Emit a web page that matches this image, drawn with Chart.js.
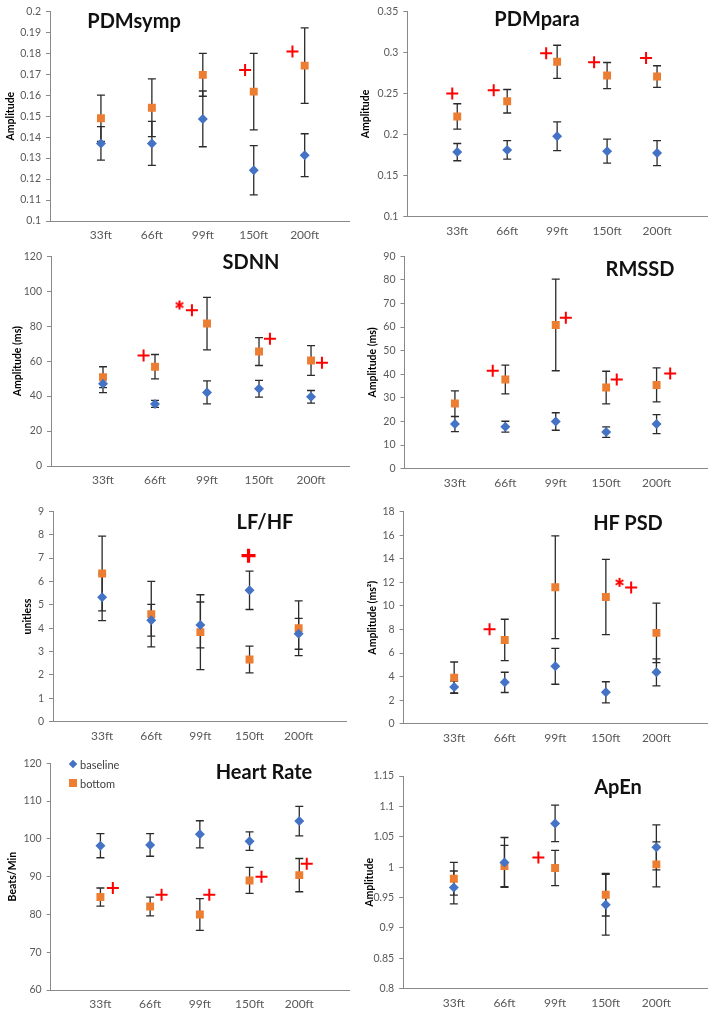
<!DOCTYPE html>
<html>
<head>
<meta charset="utf-8">
<script src="https://cdn.jsdelivr.net/npm/chart.js@4.4.1/dist/chart.umd.min.js"></script>
<style>
    body { margin: 0; background: #fff; }
    #page { position: relative; width: 715px; height: 1013px; overflow: hidden; font-family: Lato, "Open Sans", sans-serif; }
    #page canvas { position: absolute; }
    .ptitle { position: absolute; transform: translate(-50%, -50%); font-weight: bold; font-size: 20px; color: #111; white-space: nowrap; }
    .leg { position: absolute; font-size: 11px; color: #404040; transform: translateY(-50%); white-space: nowrap; }
    .diamond { position: absolute; width: 6px; height: 6px; background: #4472C4; transform: translate(-50%, -50%) rotate(45deg); }
    .square { position: absolute; width: 8px; height: 8px; background: #ED7D31; transform: translate(-50%, -50%); }
</style>
</head>
<body>
<div id="page"></div>
<script>
const categories = ['33ft', '66ft', '99ft', '150ft', '200ft'];

// PDMsymp
const symBase = [0.137, 0.137, 0.1487, 0.1242, 0.1314];
const symBaseErr = [0.008, 0.0105, 0.0133, 0.0117, 0.0102];
const symBottom = [0.149, 0.154, 0.1697, 0.1617, 0.1741];
const symBottomErr = [0.011, 0.0138, 0.0102, 0.0182, 0.018];
const symPlusX = [3.83, 4.76];
const symPlusY = [0.172, 0.1808];

// PDMpara
const paraBase = [0.1786, 0.1813, 0.198, 0.1798, 0.1774];
const paraBaseErr = [0.0105, 0.0113, 0.0175, 0.0147, 0.0153];
const paraBottom = [0.222, 0.2405, 0.2885, 0.2718, 0.2706];
const paraBottomErr = [0.0155, 0.0143, 0.0202, 0.0159, 0.0131];
const paraPlusX = [0.90, 1.73, 2.78, 3.74, 4.78];
const paraPlusY = [0.25, 0.254, 0.2988, 0.288, 0.2933];

// SDNN
const sdnnBase = [47.0, 35.5, 42.1, 44.2, 39.6];
const sdnnBaseErr = [5.0, 2.0, 6.6, 4.8, 3.6];
const sdnnBottom = [50.8, 56.8, 81.5, 65.5, 60.4];
const sdnnBottomErr = [6.0, 7.0, 15.0, 8.0, 8.5];
const sdnnPlusX = [1.78, 2.71, 4.21, 5.21];
const sdnnPlusY = [63.2, 89.1, 72.8, 59.1];
const sdnnStarX = [2.47];
const sdnnStarY = [92.1];

// RMSSD
const rmssdBase = [18.9, 17.8, 20.0, 15.5, 18.9];
const rmssdBaseErr = [3.2, 2.3, 3.7, 2.2, 4.0];
const rmssdBottom = [27.6, 37.8, 60.9, 34.4, 35.5];
const rmssdBottomErr = [5.4, 6.1, 19.4, 6.9, 7.2];
const rmssdPlusX = [1.75, 3.20, 4.21, 5.27];
const rmssdPlusY = [41.5, 64.0, 37.8, 40.3];

// LF/HF
const lfhfBase = [5.32, 4.34, 4.14, 5.62, 3.76];
const lfhfBaseErr = [1.0, 0.68, 0.98, 0.82, 0.66];
const lfhfBottom = [6.34, 4.6, 3.83, 2.66, 4.0];
const lfhfBottomErr = [1.6, 1.4, 1.6, 0.57, 1.17];
const lfhfPlusX = [3.98];
const lfhfPlusY = [7.1];

// HF PSD
const hfBase = [3.12, 3.51, 4.87, 2.66, 4.36];
const hfBaseErr = [0.5, 0.86, 1.52, 0.9, 1.15];
const hfBottom = [3.91, 7.11, 11.59, 10.76, 7.71];
const hfBottomErr = [1.33, 1.76, 4.36, 3.2, 2.52];
const hfPlusX = [1.70, 4.50];
const hfPlusY = [8.02, 11.56];
const hfStarX = [4.27];
const hfStarY = [12.0];

// Heart Rate
const hrBase = [98.2, 98.4, 101.2, 99.4, 104.7];
const hrBaseErr = [3.2, 3.0, 3.6, 2.45, 3.9];
const hrBottom = [84.6, 82.1, 80.0, 89.0, 90.4];
const hrBottomErr = [2.4, 2.5, 4.2, 3.45, 4.4];
const hrPlusX = [1.25, 2.23, 3.19, 4.24, 5.15];
const hrPlusY = [87.0, 85.2, 85.2, 90.0, 93.4];

// ApEn
const apenBase = [0.9667, 1.0078, 1.072, 0.9381, 1.0326];
const apenBaseErr = [0.027, 0.041, 0.030, 0.05, 0.037];
const apenBottom = [0.981, 1.0018, 0.9985, 0.9546, 1.0046];
const apenBottomErr = [0.027, 0.034, 0.029, 0.035, 0.037];
const apenPlusX = [2.67];
const apenPlusY = [1.016];

const BLUE = '#4472C4', ORANGE = '#ED7D31', RED = '#FF0000', AXIS = '#898989', TICK = '#595959';

const panels = [
    { title: 'PDMsymp', yLabel: 'Amplitude', base: symBase, baseErr: symBaseErr, bottom: symBottom, bottomErr: symBottomErr,
      plusX: symPlusX, plusY: symPlusY, yMin: 0.1, yMax: 0.2, yStep: 0.01,
      box: { x: 0, y: 0, w: 357, h: 250 }, area: { l: 50, t: 8, r: 350, b: 221 }, xMax: 5.87, titleAt: [134, 20], yTitleX: 10 },
    { title: 'PDMpara', yLabel: 'Amplitude', base: paraBase, baseErr: paraBaseErr, bottom: paraBottom, bottomErr: paraBottomErr,
      plusX: paraPlusX, plusY: paraPlusY, yMin: 0.1, yMax: 0.35, yStep: 0.05,
      box: { x: 357, y: 0, w: 358, h: 250 }, area: { l: 407.3, t: 6.7, r: 711, b: 216.7 }, xMax: 6, titleAt: [537, 18], yTitleX: 8 },
    { title: 'SDNN', yLabel: 'Amplitude (ms)', base: sdnnBase, baseErr: sdnnBaseErr, bottom: sdnnBottom, bottomErr: sdnnBottomErr,
      plusX: sdnnPlusX, plusY: sdnnPlusY, starX: sdnnStarX, starY: sdnnStarY, yMin: 0, yMax: 120, yStep: 20,
      box: { x: 0, y: 245, w: 357, h: 262 }, area: { l: 51, t: 254, r: 353.3, b: 466 }, xMax: 5.73, titleAt: [251, 261], yTitleX: 17 },
    { title: 'RMSSD', yLabel: 'Amplitude (ms)', base: rmssdBase, baseErr: rmssdBaseErr, bottom: rmssdBottom, bottomErr: rmssdBottomErr,
      plusX: rmssdPlusX, plusY: rmssdPlusY, yMin: 0, yMax: 90, yStep: 10,
      box: { x: 357, y: 245, w: 358, h: 262 }, area: { l: 404.5, t: 256, r: 709.5, b: 468.7 }, xMax: 6, titleAt: [640, 268], yTitleX: 15 },
    { title: 'LF/HF', yLabel: 'unitless', base: lfhfBase, baseErr: lfhfBaseErr, bottom: lfhfBottom, bottomErr: lfhfBottomErr,
      plusX: lfhfPlusX, plusY: lfhfPlusY, boldPlus: true, yMin: 0, yMax: 9, yStep: 1,
      box: { x: 0, y: 500, w: 357, h: 260 }, area: { l: 53, t: 509.3, r: 350, b: 721.7 }, xMax: 5.98, titleAt: [265, 521], yTitleX: 27 },
    { title: 'HF PSD', yLabel: 'Amplitude (ms²)', base: hfBase, baseErr: hfBaseErr, bottom: hfBottom, bottomErr: hfBottomErr,
      plusX: hfPlusX, plusY: hfPlusY, starX: hfStarX, starY: hfStarY, yMin: 0, yMax: 18, yStep: 2,
      box: { x: 357, y: 500, w: 358, h: 260 }, area: { l: 403.6, t: 511.7, r: 710, b: 723.7 }, xMax: 6, titleAt: [628, 522], yTitleX: 15 },
    { title: 'Heart Rate', yLabel: 'Beats/Min', base: hrBase, baseErr: hrBaseErr, bottom: hrBottom, bottomErr: hrBottomErr,
      plusX: hrPlusX, plusY: hrPlusY, yMin: 60, yMax: 120, yStep: 10,
      box: { x: 0, y: 752, w: 357, h: 261 }, area: { l: 50.7, t: 760, r: 356, b: 990 }, xMax: 6, titleAt: [264, 771], yTitleX: 12 },
    { title: 'ApEn', yLabel: 'Amplitude', base: apenBase, baseErr: apenBaseErr, bottom: apenBottom, bottomErr: apenBottomErr,
      plusX: apenPlusX, plusY: apenPlusY, yMin: 0.8, yMax: 1.15, yStep: 0.05,
      box: { x: 357, y: 752, w: 358, h: 261 }, area: { l: 403.2, t: 776, r: 710, b: 988.7 }, xMax: 6, titleAt: [618, 786], yTitleX: 12 }
];

Chart.defaults.font.family = 'Lato, "Open Sans", sans-serif';

// six-armed red asterisk used as a point style
function makeAsterisk(size) {
    const c = document.createElement('canvas');
    c.width = c.height = size;
    const g = c.getContext('2d');
    const m = size / 2, r = size / 2 - 1;
    g.strokeStyle = RED;
    g.lineWidth = 2;
    g.beginPath();
    for (let k = 0; k < 3; k++) {
        const a = Math.PI / 2 + k * Math.PI / 3;
        g.moveTo(m + r * Math.cos(a), m + r * Math.sin(a));
        g.lineTo(m - r * Math.cos(a), m - r * Math.sin(a));
    }
    g.stroke();
    return c;
}
const asterisk = makeAsterisk(11);

// vertical error bars with caps, drawn under the markers
const errorBars = {
    id: 'errorBars',
    beforeDatasetsDraw(chart) {
        const ctx = chart.ctx, ys = chart.scales.y;
        ctx.save();
        ctx.strokeStyle = '#2b2b2b';
        ctx.lineWidth = 1.3;
        chart.data.datasets.forEach((ds, i) => {
            if (!ds.errors) return;
            chart.getDatasetMeta(i).data.forEach((pt, j) => {
                const v = ds.data[j].y, e = ds.errors[j];
                const top = ys.getPixelForValue(v + e), bot = ys.getPixelForValue(v - e);
                ctx.beginPath();
                ctx.moveTo(pt.x, top); ctx.lineTo(pt.x, bot);
                ctx.moveTo(pt.x - 4, top); ctx.lineTo(pt.x + 4, top);
                ctx.moveTo(pt.x - 4, bot); ctx.lineTo(pt.x + 4, bot);
                ctx.stroke();
            });
        });
        ctx.restore();
    }
};

const page = document.getElementById('page');
const toPoints = vals => vals.map((v, i) => ({ x: i + 1, y: v }));
const toMarks = (xs, ys) => xs.map((x, i) => ({ x: x, y: ys[i] }));

function makePanel(p) {
    const cv = document.createElement('canvas');
    cv.width = p.box.w; cv.height = p.box.h;
    cv.style.left = p.box.x + 'px'; cv.style.top = p.box.y + 'px';
    page.appendChild(cv);

    const areaL = p.area.l - p.box.x, areaR = p.area.r - p.box.x;
    const areaT = p.area.t - p.box.y, areaB = p.area.b - p.box.y;

    const datasets = [
        { label: 'baseline', data: toPoints(p.base), errors: p.baseErr, pointStyle: 'rectRot',
          pointRadius: 5, backgroundColor: BLUE, borderColor: BLUE, borderWidth: 0 },
        { label: 'bottom', data: toPoints(p.bottom), errors: p.bottomErr, pointStyle: 'rect',
          pointRadius: 5.6, backgroundColor: ORANGE, borderColor: ORANGE, borderWidth: 0 }
    ];
    if (p.plusX) {
        datasets.push({ data: toMarks(p.plusX, p.plusY), pointStyle: 'cross',
            pointRadius: p.boldPlus ? 7 : 6, borderColor: RED, borderWidth: p.boldPlus ? 3.2 : 2 });
    }
    if (p.starX) {
        datasets.push({ data: toMarks(p.starX, p.starY), pointStyle: asterisk,
            pointRadius: 5, borderColor: RED });
    }

    new Chart(cv, {
        type: 'scatter',
        data: { datasets },
        options: {
            responsive: false,
            animation: false,
            layout: { padding: { left: 0, top: areaT, right: p.box.w - areaR, bottom: 0 } },
            plugins: { legend: { display: false }, tooltip: { enabled: false } },
            scales: {
                x: {
                    type: 'linear', min: 0, max: p.xMax,
                    afterBuildTicks: s => { s.ticks = categories.map((c, i) => ({ value: i + 1 })); },
                    afterFit: s => { s.height = p.box.h - areaB; },
                    ticks: { autoSkip: false, maxRotation: 0, padding: 3, color: TICK, font: { size: 12 },
                             callback: v => categories[v - 1] || '' },
                    grid: { drawOnChartArea: false, drawTicks: true, tickLength: 4, color: 'transparent' },
                    border: { color: AXIS, width: 1 }
                },
                y: {
                    min: p.yMin, max: p.yMax,
                    afterFit: s => { s.width = areaL; },
                    ticks: { stepSize: p.yStep, padding: 5, color: TICK, font: { size: 10.5 },
                             callback: v => String(+v.toFixed(3)) },
                    grid: { drawOnChartArea: false, drawTicks: true, tickLength: 4, color: AXIS },
                    border: { color: AXIS, width: 1 },
                    title: { display: true, text: p.yLabel, color: '#000',
                             font: { size: 10.5, weight: 'bold' },
                             padding: { top: p.yTitleX - 6, bottom: 0 } }
                }
            }
        },
        plugins: [errorBars]
    });

    const t = document.createElement('div');
    t.className = 'ptitle';
    t.textContent = p.title;
    t.style.left = p.titleAt[0] + 'px';
    t.style.top = p.titleAt[1] + 'px';
    page.appendChild(t);
}

panels.forEach(makePanel);

// legend sits inside the Heart Rate panel
page.insertAdjacentHTML('beforeend', `
    <div class="diamond" style="left:73px; top:764px"></div>
    <div class="leg" style="left:80px; top:764px">baseline</div>
    <div class="square" style="left:73px; top:783px"></div>
    <div class="leg" style="left:80px; top:783px">bottom</div>
`);
</script>
</body>
</html>
